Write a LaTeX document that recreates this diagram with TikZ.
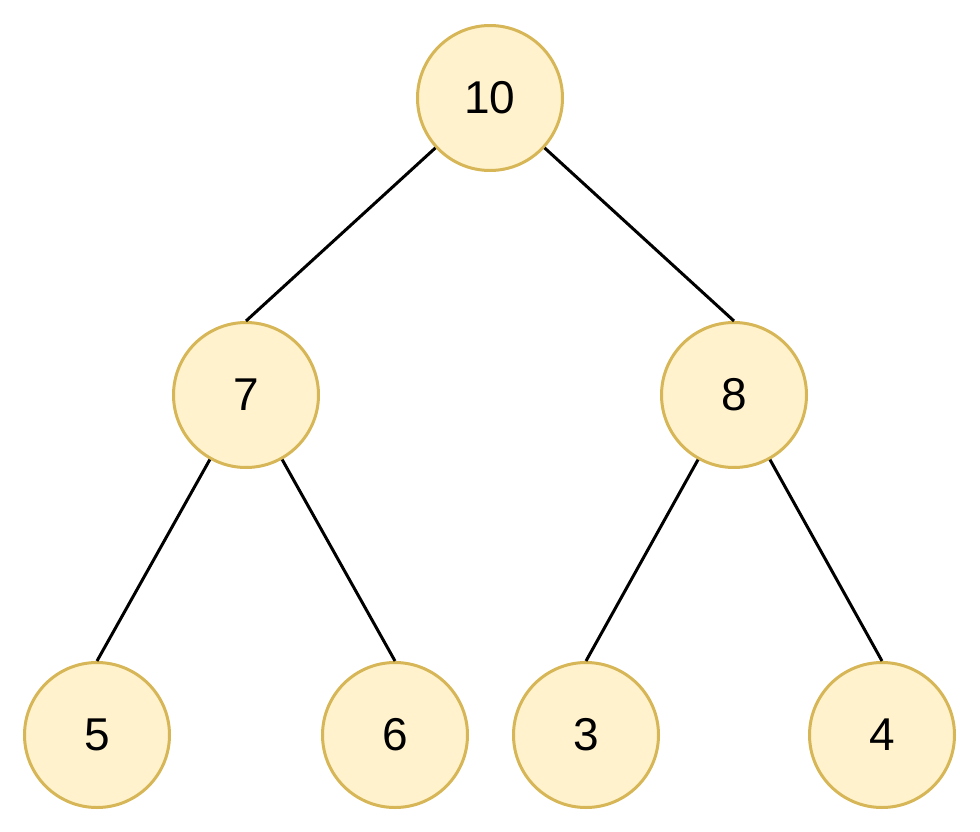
\documentclass[tikz,border=0pt]{standalone}
\usepackage{fontspec}
\setmainfont{Liberation Sans}
\definecolor{nfill}{HTML}{FFF2CC}
\definecolor{ndraw}{HTML}{D6B656}
\begin{document}
\begin{tikzpicture}[x=1pt,y=-1pt,
  tn/.style={circle,draw=ndraw,fill=nfill,line width=3pt,minimum size=145pt,inner sep=0pt,font=\fontsize{46}{46}\selectfont},
  ed/.style={line width=3pt,black}]
\useasboundingbox (0,0) rectangle (980,832);
\node[tn] (a) at (490,98) {10};
\node[tn] (b) at (246,395) {7};
\node[tn] (c) at (734,395) {8};
\node[tn] (d) at (97,735) {5};
\node[tn] (e) at (395,735) {6};
\node[tn] (f) at (586,735) {3};
\node[tn] (g) at (882,735) {4};
\draw[ed] (a) -- (b.north);
\draw[ed] (a) -- (c.north);
\draw[ed] (b) -- (d.north);
\draw[ed] (b) -- (e.north);
\draw[ed] (c) -- (f.north);
\draw[ed] (c) -- (g.north);
\end{tikzpicture}
\end{document}
